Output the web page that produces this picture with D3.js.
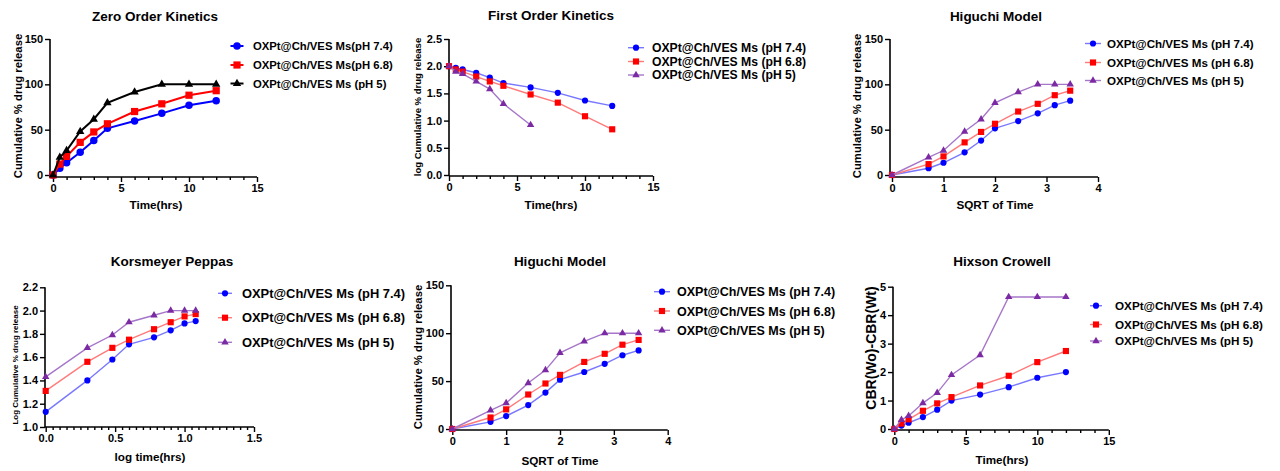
<!DOCTYPE html>
<html>
<head>
<meta charset="utf-8">
<script src="https://cdn.jsdelivr.net/npm/d3@7"></script>
<style>
body { margin: 0; background: #fff; }
svg { display: block; }
text { font-family: "Liberation Sans", Arial, sans-serif; font-weight: bold; fill: #000; }
</style>
</head>
<body>
<svg id="chart" width="1280" height="471"></svg>
<script>
// legend labels
var zeroNames = ["OXPt@Ch/VES Ms(pH 7.4)", "OXPt@Ch/VES Ms(pH 6.8)", "OXPt@Ch/VES Ms (pH 5)"];
var seriesNames = ["OXPt@Ch/VES Ms (pH 7.4)", "OXPt@Ch/VES Ms (pH 6.8)", "OXPt@Ch/VES Ms (pH 5)"];

// x values
var timeHrs = [0, 0.5, 1, 2, 3, 4, 6, 8, 10, 12];
var sqrtTime = [0, 0.71, 1, 1.41, 1.73, 2, 2.45, 2.83, 3.16, 3.46];
var logTime = [0, 0.3, 0.48, 0.6, 0.78, 0.9, 1, 1.08];

// cumulative % drug release (zero order + higuchi)
var releasePH74 = [0, 7.5, 13.5, 25, 38, 51.5, 59.5, 68, 77, 82];
var releasePH68 = [0, 12, 20.5, 36, 47.5, 56.5, 70, 78.5, 88, 93];
var releasePH5 = [0, 19.5, 27, 48, 61.5, 79.5, 91.5, 100, 100, 100];

// first order: log cumulative % drug remaining
var firstPH74 = [2.0, 1.97, 1.94, 1.88, 1.79, 1.69, 1.61, 1.51, 1.37, 1.27];
var firstPH68 = [2.0, 1.94, 1.9, 1.81, 1.72, 1.64, 1.48, 1.33, 1.08, 0.84];
var firstPH5 = [2.0, 1.9, 1.86, 1.72, 1.58, 1.31, 0.92];

// korsmeyer peppas
var kpPH74 = [1.13, 1.4, 1.58, 1.71, 1.77, 1.83, 1.89, 1.91];
var kpPH68 = [1.31, 1.56, 1.68, 1.75, 1.84, 1.9, 1.95, 1.97];
var kpPH5 = [1.43, 1.68, 1.79, 1.9, 1.96, 2.0, 2.0, 2.0];

// hixson crowell
var hcPH74 = [0, 0.12, 0.22, 0.42, 0.68, 1.0, 1.21, 1.47, 1.8, 2.0];
var hcPH68 = [0, 0.19, 0.34, 0.64, 0.9, 1.12, 1.53, 1.87, 2.35, 2.74];
var hcPH5 = [0, 0.32, 0.46, 0.91, 1.27, 1.9, 2.6, 4.64, 4.64, 4.64];

var svg = d3.select("#chart");
var shapes = [d3.symbolCircle, d3.symbolSquare, d3.symbolTriangle];

var darkStyle = {
    lines: ["#0000ff", "#ff0000", "#000000"],
    marks: ["#0000ff", "#ff0000", "#000000"],
    lineWidth: 2, sizes: [44, 52, 30]
};
var lightStyle = {
    lines: ["#7878ff", "#ff7a7a", "#a676c9"],
    marks: ["#0000ff", "#ff0000", "#7b2aa3"],
    lineWidth: 1.4, sizes: [30, 38, 24]
};

function minorTicks(start, end, step, every) {
    var out = [];
    for (var v = start; v <= end + 1e-9; v += step) {
        var r = Math.round(v * 1000) / 1000;
        if (Math.abs(r / every - Math.round(r / every)) > 1e-6) out.push(r);
    }
    return out;
}

function cleanAxis(sel, fs) {
    sel.select(".domain").remove();
    sel.selectAll(".tick line").attr("stroke", "#000").attr("stroke-width", 1.4);
    sel.selectAll(".tick text").style("font-size", fs + "px").attr("fill", "#000");
}

function drawPanel(p) {
    var g = svg.append("g");
    var x = d3.scaleLinear().domain(p.xDomain).range(p.xRange);
    var y = d3.scaleLinear().domain(p.yDomain).range(p.yRange);
    var st = p.style;

    // x axis
    g.append("g")
        .attr("transform", "translate(0," + p.axisY + ")")
        .call(d3.axisBottom(x).tickValues(p.xTicks).tickSize(5).tickPadding(2).tickFormat(p.xFmt))
        .call(cleanAxis, 11);
    if (p.xMinor) {
        g.append("g")
            .attr("transform", "translate(0," + p.axisY + ")")
            .call(d3.axisBottom(x).tickValues(p.xMinor).tickSize(3).tickFormat(""))
            .call(cleanAxis, 11);
    }
    // y axis
    g.append("g")
        .attr("transform", "translate(" + p.axisX + ",0)")
        .call(d3.axisLeft(y).tickValues(p.yTicks).tickSize(5).tickPadding(2).tickFormat(p.yFmt))
        .call(cleanAxis, 11);

    g.append("line")
        .attr("x1", p.axisX).attr("x2", p.xRange[1])
        .attr("y1", p.axisY).attr("y2", p.axisY)
        .attr("stroke", "#000").attr("stroke-width", 1.6);
    g.append("line")
        .attr("x1", p.axisX).attr("x2", p.axisX)
        .attr("y1", p.yRange[1]).attr("y2", p.axisY)
        .attr("stroke", "#000").attr("stroke-width", 1.6);

    // series
    p.series.forEach(function (s, i) {
        var pts = s.y.map(function (v, j) { return [s.x[j], v]; });
        var line = d3.line().x(function (d) { return x(d[0]); }).y(function (d) { return y(d[1]); });
        g.append("path")
            .attr("d", line(pts))
            .attr("fill", "none")
            .attr("stroke", st.lines[i])
            .attr("stroke-width", st.lineWidth);
        g.selectAll(null).data(pts).enter()
            .append("path")
            .attr("d", d3.symbol().type(shapes[i]).size(st.sizes[i]))
            .attr("transform", function (d) { return "translate(" + x(d[0]) + "," + y(d[1]) + ")"; })
            .attr("fill", st.marks[i]);
    });

    // legend
    var lg = p.legend;
    p.names.forEach(function (name, i) {
        var ly = lg.rows[i];
        g.append("line")
            .attr("x1", lg.x - lg.half).attr("x2", lg.x + lg.half)
            .attr("y1", ly).attr("y2", ly)
            .attr("stroke", st.lines[i]).attr("stroke-width", st.lineWidth);
        g.append("path")
            .attr("d", d3.symbol().type(shapes[i]).size(st.sizes[i]))
            .attr("transform", "translate(" + lg.x + "," + ly + ")")
            .attr("fill", st.marks[i]);
        g.append("text")
            .attr("x", lg.textX).attr("y", ly)
            .attr("dy", "0.36em")
            .style("font-size", lg.fs + "px")
            .text(name);
    });

    // titles
    g.append("text")
        .attr("x", p.title[1]).attr("y", p.title[2])
        .attr("text-anchor", "middle")
        .style("font-size", "13.5px")
        .text(p.title[0]);
    g.append("text")
        .attr("x", p.xLabel[1]).attr("y", p.xLabel[2])
        .attr("text-anchor", "middle")
        .style("font-size", "11.7px")
        .text(p.xLabel[0]);
    g.append("text")
        .attr("transform", "translate(" + p.yLabel[1] + "," + p.yLabel[2] + ") rotate(-90)")
        .attr("text-anchor", "middle")
        .attr("dy", "0.36em")
        .style("font-size", p.yLabel[3] + "px")
        .text(p.yLabel[0]);
}

var f0 = d3.format("d"), f1 = d3.format(".1f");

drawPanel({
    title: ["Zero Order Kinetics", 155, 20.5],
    xLabel: ["Time(hrs)", 156, 209],
    yLabel: ["Cumulative % drug release", 17.5, 106, 11.3],
    xDomain: [0, 15], xRange: [53, 257], axisX: 50,
    yDomain: [0, 150], yRange: [175, 39], axisY: 177,
    xTicks: [0, 5, 10, 15], xMinor: minorTicks(0, 15, 1, 5), xFmt: f0,
    yTicks: [0, 50, 100, 150], yFmt: f0,
    style: darkStyle, names: zeroNames,
    series: [{ x: timeHrs, y: releasePH74 }, { x: timeHrs, y: releasePH68 }, { x: timeHrs, y: releasePH5 }],
    legend: { x: 237, half: 6.5, textX: 253, rows: [46, 65, 83.5], fs: 11.3 }
});

drawPanel({
    title: ["First Order Kinetics", 551, 20],
    xLabel: ["Time(hrs)", 551, 209],
    yLabel: ["log Cumulative % drug release", 418, 107, 9.5],
    xDomain: [0, 15], xRange: [449, 653], axisX: 449,
    yDomain: [0, 2.5], yRange: [175, 39], axisY: 176,
    xTicks: [0, 5, 10, 15], xMinor: minorTicks(0, 15, 1, 5), xFmt: f0,
    yTicks: [0, 0.5, 1, 1.5, 2, 2.5], yFmt: f1,
    style: lightStyle, names: seriesNames,
    series: [{ x: timeHrs, y: firstPH74 }, { x: timeHrs, y: firstPH68 }, { x: timeHrs, y: firstPH5 }],
    legend: { x: 636, half: 8, textX: 652, rows: [47.7, 61.5, 75], fs: 12.2 }
});

drawPanel({
    title: ["Higuchi Model", 996, 20.5],
    xLabel: ["SQRT of Time", 995, 209],
    yLabel: ["Cumulative % drug release", 857, 106, 11.3],
    xDomain: [0, 4], xRange: [892, 1098], axisX: 890,
    yDomain: [0, 150], yRange: [175, 39], axisY: 177,
    xTicks: [0, 1, 2, 3, 4], xMinor: null, xFmt: f0,
    yTicks: [0, 50, 100, 150], yFmt: f0,
    style: lightStyle, names: seriesNames,
    series: [{ x: sqrtTime, y: releasePH74 }, { x: sqrtTime, y: releasePH68 }, { x: sqrtTime, y: releasePH5 }],
    legend: { x: 1093, half: 8, textX: 1107, rows: [43.5, 62.5, 80.5], fs: 11.6 }
});

drawPanel({
    title: ["Korsmeyer Peppas", 172, 266],
    xLabel: ["log time(hrs)", 150, 461],
    yLabel: ["Log Cumulative % drug release", 15, 365, 8],
    xDomain: [0, 1.5], xRange: [45.7, 254], axisX: 45,
    yDomain: [1.0, 2.2], yRange: [427, 287.3], axisY: 427,
    xTicks: [0, 0.5, 1, 1.5], xMinor: minorTicks(0, 1.5, 0.05, 0.5), xFmt: f1,
    yTicks: [1.0, 1.2, 1.4, 1.6, 1.8, 2.0, 2.2], yFmt: f1,
    style: lightStyle, names: seriesNames,
    series: [{ x: logTime, y: kpPH74 }, { x: logTime, y: kpPH68 }, { x: logTime, y: kpPH5 }],
    legend: { x: 225, half: 7, textX: 242, rows: [293.3, 317.7, 342.3], fs: 12.9 }
});

drawPanel({
    title: ["Higuchi Model", 560, 266],
    xLabel: ["SQRT of Time", 560, 465],
    yLabel: ["Cumulative % drug release", 418, 357, 11.3],
    xDomain: [0, 4], xRange: [452.3, 667.7], axisX: 451,
    yDomain: [0, 150], yRange: [429, 285.3], axisY: 430,
    xTicks: [0, 1, 2, 3, 4], xMinor: null, xFmt: f0,
    yTicks: [0, 50, 100, 150], yFmt: f0,
    style: lightStyle, names: seriesNames,
    series: [{ x: sqrtTime, y: releasePH74 }, { x: sqrtTime, y: releasePH68 }, { x: sqrtTime, y: releasePH5 }],
    legend: { x: 662, half: 8, textX: 677, rows: [291.7, 311, 330.3], fs: 12.5 }
});

drawPanel({
    title: ["Hixson Crowell", 1002, 266],
    xLabel: ["Time(hrs)", 1002, 464],
    yLabel: ["CBR(Wo)-CBR(Wt)", 871, 348, 14],
    xDomain: [0, 15], xRange: [894.3, 1108.8], axisX: 893,
    yDomain: [0, 5], yRange: [429, 286.7], axisY: 430,
    xTicks: [0, 5, 10, 15], xMinor: minorTicks(0, 15, 1, 5), xFmt: f0,
    yTicks: [0, 1, 2, 3, 4, 5], yFmt: f0,
    style: lightStyle, names: seriesNames,
    series: [{ x: timeHrs, y: hcPH74 }, { x: timeHrs, y: hcPH68 }, { x: timeHrs, y: hcPH5 }],
    legend: { x: 1096, half: 6, textX: 1115, rows: [305.7, 324.5, 341], fs: 11.7 }
});
</script>
</body>
</html>
